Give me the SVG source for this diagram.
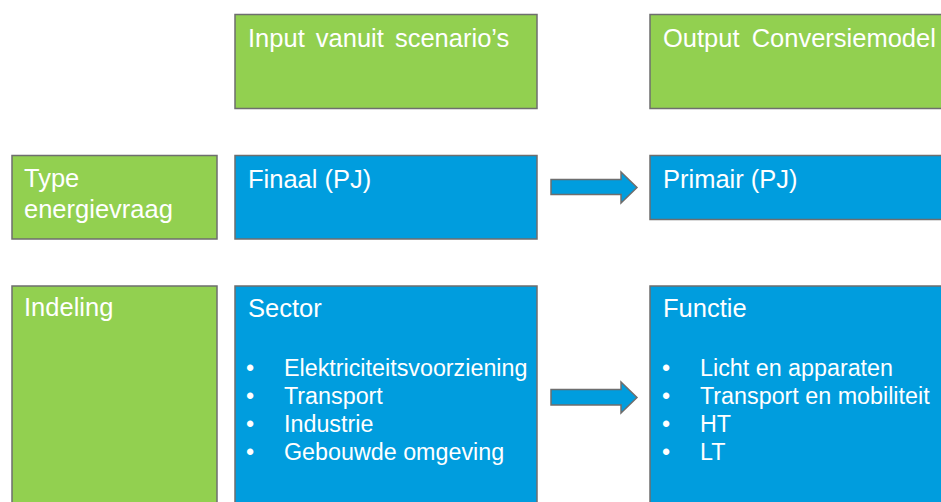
<svg xmlns="http://www.w3.org/2000/svg" width="941" height="502" viewBox="0 0 941 502">
<style>
.g{fill:#92D050;stroke:#6E6E6E;stroke-width:1.5}
.b{fill:#009DDE;stroke:#6E6E6E;stroke-width:1.5}
.t{font-family:"Liberation Sans",Arial,sans-serif;font-size:25.5px;fill:#FFFFFF}
.s{font-family:"Liberation Sans",Arial,sans-serif;font-size:23.3px;fill:#FFFFFF}
.a{fill:#009DDE;stroke:#6E6E6E;stroke-width:1.5;stroke-linejoin:miter}
</style>
<rect width="941" height="502" fill="#FFFFFF"/>
<g id="input-header">
<rect class="g" x="235" y="14.5" width="302" height="94"/>
<text class="t" x="248" y="47" word-spacing="4">Input vanuit scenario’s</text>
</g>
<g id="output-header">
<rect class="g" x="650" y="14.5" width="300" height="94"/>
<text class="t" x="663" y="47" word-spacing="5">Output Conversiemodel</text>
</g>
<g id="type-label">
<rect class="g" x="12" y="155.5" width="205" height="83.5"/>
<text class="t" x="24" y="187">Type</text>
<text class="t" x="24" y="218">energievraag</text>
</g>
<g id="finaal">
<rect class="b" x="235" y="155.5" width="302" height="83.5"/>
<text class="t" x="248" y="188">Finaal (PJ)</text>
</g>
<g id="primair">
<rect class="b" x="650" y="155.5" width="300" height="64"/>
<text class="t" x="663" y="188">Primair (PJ)</text>
</g>
<g id="indeling-label">
<rect class="g" x="12" y="286" width="205" height="230"/>
<text class="t" x="24" y="316">Indeling</text>
</g>
<g id="sector">
<rect class="b" x="235" y="286" width="302" height="230"/>
<text class="t" x="248" y="317">Sector</text>
<text class="s" x="246" y="376">•</text><text class="s" x="284" y="376">Elektriciteitsvoorziening</text>
<text class="s" x="246" y="404">•</text><text class="s" x="284" y="404">Transport</text>
<text class="s" x="246" y="432">•</text><text class="s" x="284" y="432">Industrie</text>
<text class="s" x="246" y="460">•</text><text class="s" x="284" y="460">Gebouwde omgeving</text>
</g>
<g id="functie">
<rect class="b" x="650" y="286" width="300" height="230"/>
<text class="t" x="663" y="317">Functie</text>
<text class="s" x="662" y="376">•</text><text class="s" x="700" y="376">Licht en apparaten</text>
<text class="s" x="662" y="404">•</text><text class="s" x="700" y="404">Transport en mobiliteit</text>
<text class="s" x="662" y="432">•</text><text class="s" x="700" y="432">HT</text>
<text class="s" x="662" y="460">•</text><text class="s" x="700" y="460">LT</text>
</g>
<g id="connectors">
<polygon class="a" points="551,179.5 621,179.5 621,172 637,187.5 621,203 621,194.5 551,194.5"/>
<polygon class="a" points="551,389.5 621,389.5 621,382 637,397.5 621,413 621,405 551,405"/>
</g>
</svg>
